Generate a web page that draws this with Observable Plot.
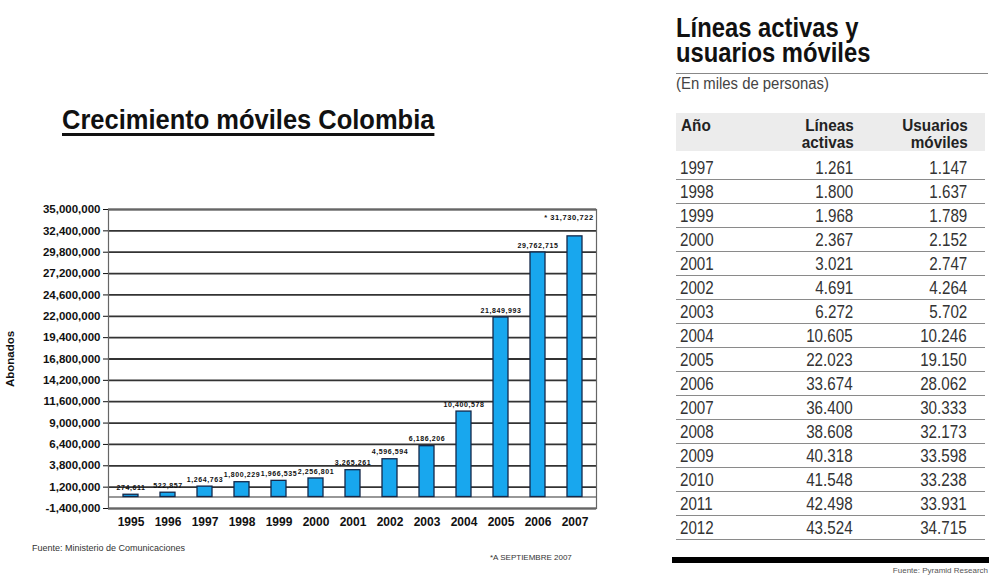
<!DOCTYPE html>
<html>
<head>
<meta charset="utf-8">
<script src="https://cdn.jsdelivr.net/npm/d3@7"></script>
<script src="https://cdn.jsdelivr.net/npm/@observablehq/plot@0.6"></script>
<style>
  html, body { margin: 0; padding: 0; background: #fff; }
  #page { position: relative; width: 989px; height: 578px; overflow: hidden; background: #fff; font-family: "Liberation Sans", Arial, sans-serif; }
  #title { position: absolute; left: 62px; top: 104px; font-size: 28px; line-height: 32px; font-weight: bold; color: #111;
           text-decoration: underline; text-decoration-thickness: 3px; text-underline-offset: 4px; white-space: nowrap;
           transform: scaleX(0.91); transform-origin: left center; }
  #chart { position: absolute; left: 0; top: 195px; }
  #chart g[aria-label="text"] text { letter-spacing: 0.6px; }
  .foot { position: absolute; color: #333; white-space: nowrap; }
  #tbl { position: absolute; left: 676px; top: 0; width: 313px; height: 578px; font-family: "Liberation Sans", Arial, sans-serif; }
  .tt { position: absolute; left: 0; font-size: 28px; line-height: 25px; height: 25px; font-weight: bold; color: #111; white-space: nowrap; transform: scaleX(0.85); transform-origin: left center; }
  #tblRule { position: absolute; left: 0; top: 73px; width: 312px; height: 1px; background: #888; }
  #tblSub { position: absolute; left: 0; top: 76px; font-size: 16px; line-height: 16px; color: #444; white-space: nowrap; transform: scaleX(0.93); transform-origin: left center; }
  #tblHead { position: absolute; left: 0; top: 113px; width: 309px; height: 38px; background: #ececec; font-weight: bold; font-size: 17px; line-height: 17px; color: #222; }
  .hc { position: absolute; top: 4px; white-space: nowrap; }
  #rows { position: absolute; left: 0; top: 156px; width: 309px; }
  .row { position: relative; height: 23px; border-bottom: 1px solid #8a8a8a; font-size: 18.5px; line-height: 23px; color: #333; }
  .c0 { position: absolute; left: 4px; transform: scaleX(0.82); transform-origin: left center; }
  .c1 { position: absolute; right: 132px; transform: scaleX(0.82); transform-origin: right center; }
  .c2 { position: absolute; right: 18px; transform: scaleX(0.82); transform-origin: right center; }
  #thick { position: absolute; left: -4px; top: 557px; width: 317px; height: 6px; background: #000; }
  #tblSrc { position: absolute; right: 1px; top: 566px; font-size: 8px; color: #555; white-space: nowrap; }
</style>
</head>
<body>
<div id="page">
  <div id="title">Crecimiento móviles Colombia</div>
  <div id="chart"></div>
  <div class="foot" style="left:32px; top:543px; font-size:9px;">Fuente: Ministerio de Comunicaciones</div>
  <div class="foot" style="left:490px; top:553px; font-size:8px;">*A SEPTIEMBRE 2007</div>
  <div id="tbl">
    <div class="tt" style="top:15px;">Líneas activas y</div>
    <div class="tt" style="top:40px;">usuarios móviles</div>
    <div id="tblRule"></div>
    <div id="tblSub">(En miles de personas)</div>
    <div id="tblHead">
      <div class="hc" style="left:5px; transform:scaleX(0.9); transform-origin:left center;">Año</div>
      <div class="hc" style="right:131px; text-align:right; transform:scaleX(0.9); transform-origin:right center;">Líneas<br>activas</div>
      <div class="hc" style="right:17px; text-align:right; transform:scaleX(0.9); transform-origin:right center;">Usuarios<br>móviles</div>
    </div>
    <div id="rows"></div>
    <div id="thick"></div>
    <div id="tblSrc">Fuente: Pyramid Research</div>
  </div>
</div>
<script>
// ---- Bar chart data (Crecimiento móviles Colombia) ----
const years = ["1995","1996","1997","1998","1999","2000","2001","2002","2003","2004","2005","2006","2007"];
const subscribers = [274611, 522857, 1264763, 1800229, 1966535, 2256801, 3265261, 4596594, 6186206, 10400578, 21849993, 29762715, 31730722];
const provisionalYear = "2007";
const yTicks = [-1400000, 1200000, 3800000, 6400000, 9000000, 11600000, 14200000, 16800000, 19400000, 22000000, 24600000, 27200000, 29800000, 32400000, 35000000];

// ---- Table data (Líneas activas y usuarios móviles, miles) ----
const tableYears = [1997,1998,1999,2000,2001,2002,2003,2004,2005,2006,2007,2008,2009,2010,2011,2012];
const activeLines = [1261,1800,1968,2367,3021,4691,6272,10605,22023,33674,36400,38608,40318,41548,42498,43524];
const mobileUsers = [1147,1637,1789,2152,2747,4264,5702,10246,19150,28062,30333,32173,33598,33238,33931,34715];

const data = years.map((y, i) => ({year: y, value: subscribers[i]}));
const fmt = d3.format(",");
const fmtTick = d => fmt(d).replace("−", "-");

const chart = Plot.plot({
  width: 600,
  height: 343,
  marginLeft: 108,
  marginRight: 4,
  marginTop: 14,
  marginBottom: 30,
  style: {fontFamily: "Liberation Sans, Arial, sans-serif", fontSize: "11.5px", fontWeight: "bold", color: "#111", background: "transparent", overflow: "visible"},
  x: {domain: years, paddingInner: 0.6, paddingOuter: 0.3},
  y: {domain: [-1400000, 35000000]},
  marks: [
    Plot.ruleY(yTicks, {stroke: "#333", strokeWidth: 1.8}),
    Plot.ruleY([0], {stroke: "#333", strokeWidth: 1.2}),
    Plot.frame({stroke: "#666", strokeWidth: 1.2}),
    Plot.barY(data, {x: "year", y: "value", fill: "#18a7ee", stroke: "#14284a", strokeWidth: 1.3}),
    Plot.text(data.filter(d => d.year !== provisionalYear), {x: "year", y: "value", text: d => fmt(d.value), dy: -7, fontSize: 7, fontWeight: "bold", fill: "#111"}),
    Plot.text(data.filter(d => d.year === provisionalYear), {x: "year", y: "value", text: d => "* " + fmt(d.value), dy: -19, dx: -6, fontSize: 7.5, fontWeight: "bold", fill: "#111"}),
    Plot.axisY({ticks: yTicks, tickFormat: fmtTick, tickSize: 5, tickPadding: 3, fontSize: 11.5, fontWeight: "bold",
                label: "Abonados", labelAnchor: "center", labelArrow: "none", labelOffset: 103}),
    Plot.axisX({tickSize: 0, tickPadding: 9, fontSize: 12, fontWeight: "bold", label: null})
  ]
});
document.getElementById("chart").appendChild(chart);

// ---- Table rows ----
const tfmt = d3.formatLocale({decimal: ",", thousands: ".", grouping: [3], currency: ["", ""]}).format(",");
const rows = d3.select("#rows");
tableYears.forEach((y, i) => {
  const r = rows.append("div").attr("class", "row");
  r.append("span").attr("class", "c0").text(y);
  r.append("span").attr("class", "c1").text(tfmt(activeLines[i]));
  r.append("span").attr("class", "c2").text(tfmt(mobileUsers[i]));
});
</script>
</body>
</html>
